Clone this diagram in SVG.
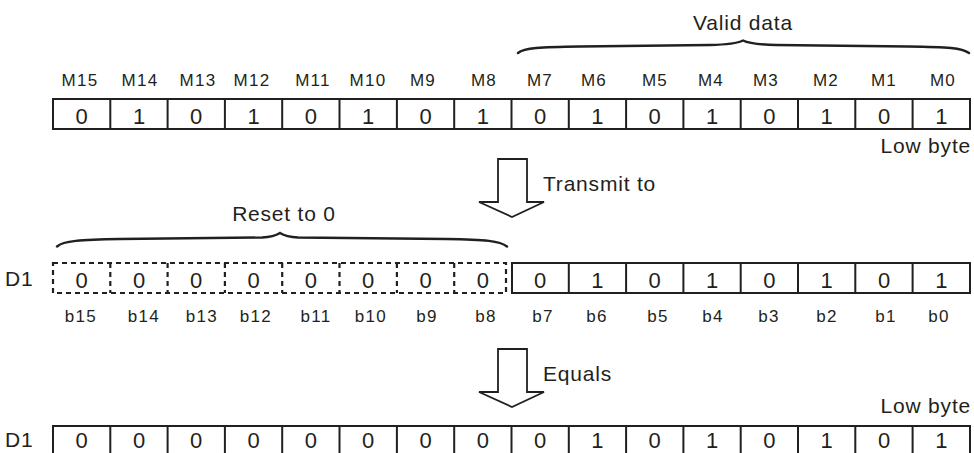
<svg xmlns="http://www.w3.org/2000/svg" width="974" height="453" viewBox="0 0 974 453">
<style>
.t{font-family:"Liberation Sans",Arial,sans-serif;fill:#231f20}
.lab{font-size:17px;text-anchor:middle;letter-spacing:1.3px}
.dig{font-size:22px;text-anchor:middle}
.big{font-size:21px;letter-spacing:0.8px}
.box{fill:#fff;stroke:#231f20;stroke-width:2}
.div{stroke:#231f20;stroke-width:2}
.dash{fill:none;stroke:#231f20;stroke-width:2.2;stroke-dasharray:5 4}
.brace{fill:none;stroke:#231f20;stroke-width:2.4;stroke-linecap:round}
.arrow{fill:#fff;stroke:#231f20;stroke-width:1.8;stroke-linejoin:miter}
</style>
<rect width="974" height="453" fill="#fff"/>

<g id="valid-data">
<path class="brace" d="M518,53 C524,48 540,47 580,46.5 L710,45 C732,44.5 738,43 743,40.5 C748,43 754,44.5 776,45 L908,46.5 C948,47 962,48 969,53"/>
<text class="t big" x="743" y="30" text-anchor="middle">Valid data</text>
</g>

<g id="m-labels" class="t lab">
<text x="80" y="86">M15</text><text x="140" y="86">M14</text><text x="198" y="86">M13</text><text x="252" y="86">M12</text>
<text x="313" y="86">M11</text><text x="368" y="86">M10</text><text x="423" y="86">M9</text><text x="484" y="86">M8</text>
<text x="540" y="86">M7</text><text x="594" y="86">M6</text><text x="655" y="86">M5</text><text x="711" y="86">M4</text>
<text x="766" y="86">M3</text><text x="826" y="86">M2</text><text x="884" y="86">M1</text><text x="943" y="86">M0</text>
</g>

<g id="row-m">
<rect class="box" x="53" y="99" width="917" height="30"/>
<path class="div" d="M110.3,99V129M167.6,99V129M224.9,99V129M282.2,99V129M339.5,99V129M396.9,99V129M454.2,99V129M511.5,99V129M568.8,99V129M626.1,99V129M683.4,99V129M740.7,99V129M798,99V129M855.3,99V129M912.6,99V129"/>
<g class="t dig">
<text x="81.7" y="124">0</text><text x="139" y="124">1</text><text x="196.2" y="124">0</text><text x="253.6" y="124">1</text>
<text x="310.9" y="124">0</text><text x="368.2" y="124">1</text><text x="425.5" y="124">0</text><text x="482.8" y="124">1</text>
<text x="540.1" y="124">0</text><text x="597.4" y="124">1</text><text x="654.7" y="124">0</text><text x="712" y="124">1</text>
<text x="769.4" y="124">0</text><text x="826.7" y="124">1</text><text x="884" y="124">0</text><text x="941.3" y="124">1</text>
</g>
<text class="t big" x="971" y="153" text-anchor="end">Low byte</text>
</g>

<g id="connectors">
<g id="arrow-transmit">
<polygon class="arrow" points="498,159 527,159 527,202 544,202 512,217 479,202 498,202"/>
<text class="t big" x="543" y="191">Transmit to</text>
</g>
<g id="arrow-equals">
<polygon class="arrow" points="498,349 527,349 527,392 544,392 512,407 479,392 498,392"/>
<text class="t big" x="543" y="381">Equals</text>
</g>
</g>

<g id="reset">
<path class="brace" d="M57,246.5 C63,241 80,239.5 120,239 L262,237.5 C272,237 276,235.5 280,233 C284,235.5 288,237 298,237.5 L446,239 C486,239.5 500,241 507,246.5"/>
<text class="t big" x="284" y="221" text-anchor="middle">Reset to 0</text>
</g>

<g id="row-d1-a">
<text class="t big" x="5" y="286">D1</text>
<rect class="dash" x="53" y="263" width="453" height="30"/>
<path class="dash" d="M110.3,263V293M167.6,263V293M224.9,263V293M282.2,263V293M339.5,263V293M396.9,263V293M454.2,263V293"/>
<rect class="box" x="512" y="263" width="458" height="30"/>
<path class="div" d="M568.8,263V293M626.1,263V293M683.4,263V293M740.7,263V293M798,263V293M855.3,263V293M912.6,263V293"/>
<g class="t dig">
<text x="81.7" y="288">0</text><text x="139" y="288">0</text><text x="196.2" y="288">0</text><text x="253.6" y="288">0</text>
<text x="310.9" y="288">0</text><text x="368.2" y="288">0</text><text x="425.5" y="288">0</text><text x="482.8" y="288">0</text>
<text x="540.1" y="288">0</text><text x="597.4" y="288">1</text><text x="654.7" y="288">0</text><text x="712" y="288">1</text>
<text x="769.4" y="288">0</text><text x="826.7" y="288">1</text><text x="884" y="288">0</text><text x="941.3" y="288">1</text>
</g>
</g>

<g id="b-labels" class="t lab">
<text x="81" y="322">b15</text><text x="144" y="322">b14</text><text x="202" y="322">b13</text><text x="256" y="322">b12</text>
<text x="316" y="322">b11</text><text x="371" y="322">b10</text><text x="427" y="322">b9</text><text x="486" y="322">b8</text>
<text x="543" y="322">b7</text><text x="597" y="322">b6</text><text x="658" y="322">b5</text><text x="713" y="322">b4</text>
<text x="769" y="322">b3</text><text x="827" y="322">b2</text><text x="886" y="322">b1</text><text x="939" y="322">b0</text>
</g>

<g id="row-d1-b">
<text class="t big" x="971" y="413" text-anchor="end">Low byte</text>
<text class="t big" x="5" y="447">D1</text>
<rect class="box" x="53" y="426" width="917" height="30"/>
<path class="div" d="M110.3,426V456M167.6,426V456M224.9,426V456M282.2,426V456M339.5,426V456M396.9,426V456M454.2,426V456M511.5,426V456M568.8,426V456M626.1,426V456M683.4,426V456M740.7,426V456M798,426V456M855.3,426V456M912.6,426V456"/>
<g class="t dig">
<text x="81.7" y="448">0</text><text x="139" y="448">0</text><text x="196.2" y="448">0</text><text x="253.6" y="448">0</text>
<text x="310.9" y="448">0</text><text x="368.2" y="448">0</text><text x="425.5" y="448">0</text><text x="482.8" y="448">0</text>
<text x="540.1" y="448">0</text><text x="597.4" y="448">1</text><text x="654.7" y="448">0</text><text x="712" y="448">1</text>
<text x="769.4" y="448">0</text><text x="826.7" y="448">1</text><text x="884" y="448">0</text><text x="941.3" y="448">1</text>
</g>
</g>
</svg>
